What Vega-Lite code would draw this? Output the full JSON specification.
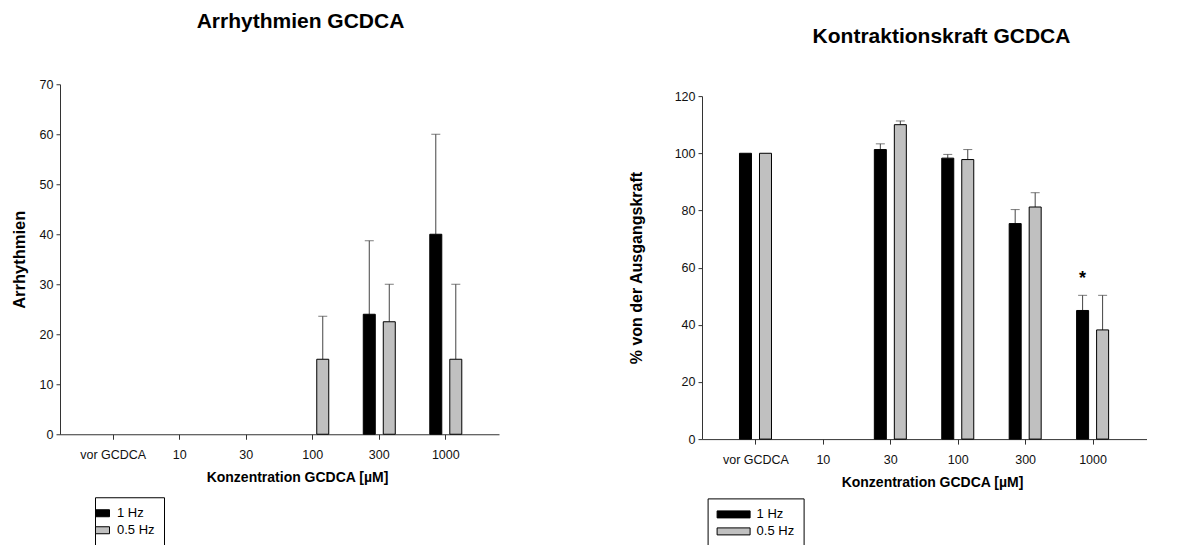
{
  "$schema": "https://vega.github.io/schema/vega-lite/v6.json",
  "background": "white",
  "padding": {"left": 11, "top": 10, "right": 0, "bottom": 0},
  "config": {
    "font": "Liberation Sans",
    "view": {"stroke": null},
    "axis": {
      "labelFont": "Liberation Sans",
      "labelFontSize": 12.5,
      "labelColor": "#111111",
      "domainColor": "#333333",
      "tickColor": "#333333",
      "grid": false,
      "titleFont": "Liberation Sans",
      "titleFontSize": 16,
      "titleFontWeight": "bold",
      "titleColor": "#000000"
    },
    "title": {
      "font": "Liberation Sans",
      "fontSize": 21,
      "fontWeight": "bold",
      "color": "#000000",
      "baseline": "alphabetic",
      "anchor": "middle",
      "frame": "group"
    },
    "legend": {
      "labelFont": "Liberation Sans",
      "labelFontSize": 13,
      "labelColor": "#000000",
      "strokeColor": "#000000",
      "fillColor": "white",
      "padding": 9,
      "rowPadding": 3,
      "symbolStrokeColor": "#000000",
      "symbolStrokeWidth": 1,
      "symbolOpacity": 1,
      "symbolSize": 169
    }
  },
  "datasets": {
    "arrhythmien": [
      {"conc": "100", "freq": "0.5 Hz", "value": 15, "hi": 23.6},
      {"conc": "300", "freq": "1 Hz", "value": 24, "hi": 38.7},
      {"conc": "300", "freq": "0.5 Hz", "value": 22.5, "hi": 30},
      {"conc": "1000", "freq": "1 Hz", "value": 40, "hi": 60},
      {"conc": "1000", "freq": "0.5 Hz", "value": 15, "hi": 30}
    ],
    "kraft": [
      {"conc": "vor GCDCA", "freq": "1 Hz", "value": 100, "hi": 100},
      {"conc": "vor GCDCA", "freq": "0.5 Hz", "value": 100, "hi": 100},
      {"conc": "30", "freq": "1 Hz", "value": 101.3, "hi": 103.3},
      {"conc": "30", "freq": "0.5 Hz", "value": 110, "hi": 111.3},
      {"conc": "100", "freq": "1 Hz", "value": 98.3, "hi": 99.6},
      {"conc": "100", "freq": "0.5 Hz", "value": 97.8, "hi": 101.3},
      {"conc": "300", "freq": "1 Hz", "value": 75.4, "hi": 80.3},
      {"conc": "300", "freq": "0.5 Hz", "value": 81.2, "hi": 86.2},
      {"conc": "1000", "freq": "1 Hz", "value": 45, "hi": 50.3, "sig": "*"},
      {"conc": "1000", "freq": "0.5 Hz", "value": 38.2, "hi": 50.3}
    ]
  },
  "center": true,
  "spacing": 129,
  "resolve": {"legend": {"color": "independent"}},
  "hconcat": [
    {
      "width": 439,
      "height": 350,
      "title": {"text": "Arrhythmien GCDCA", "offset": 46.5, "dx": 21},
      "data": {"name": "arrhythmien"},
      "encoding": {
        "x": {
          "field": "conc", "type": "nominal", "sort": null,
          "scale": {"domain": ["vor GCDCA", "10", "30", "100", "300", "1000"], "paddingInner": 0, "paddingOuter": 0.3},
          "axis": {"title": "Konzentration GCDCA [µM]", "titleFontSize": 14, "titleX": 237, "labelAngle": 0, "tickSize": 5, "labelPadding": 9.5, "titlePadding": 9}
        },
        "xOffset": {
          "field": "freq", "type": "nominal",
          "scale": {"domain": ["1 Hz", "0.5 Hz"], "paddingInner": 0.4, "paddingOuter": 0.8625}
        }
      },
      "layer": [
        {
          "mark": {"type": "rule", "color": "#444444", "strokeWidth": 1},
          "encoding": {
            "y": {"field": "value", "type": "quantitative", "title": "Arrhythmien",
                  "scale": {"domain": [0, 70]},
                  "axis": {"values": [0, 10, 20, 30, 40, 50, 60, 70], "tickSize": 4, "labelPadding": 3, "titlePadding": 12, "titleFontSize": 16.5}},
            "y2": {"field": "hi"}
          }
        },
        {
          "mark": {"type": "tick", "color": "#444444", "thickness": 1, "size": 9},
          "encoding": {
            "y": {"field": "hi", "type": "quantitative", "title": "Arrhythmien"}
          }
        },
        {
          "mark": {"type": "bar", "stroke": "#000000", "strokeWidth": 1},
          "encoding": {
            "y": {"field": "value", "type": "quantitative", "title": "Arrhythmien"},
            "color": {
              "field": "freq", "type": "nominal",
              "scale": {"domain": ["1 Hz", "0.5 Hz"], "range": ["#000000", "#c0c0c0"]},
              "legend": {"title": " ", "titleOrient": "bottom", "titleFontSize": 10, "titlePadding": 3,
                         "orient": "none", "legendX": 35, "legendY": 413,
                         "symbolType": "M-2.385,-0.538H-0.23V0.538H-2.385Z", "labelOffset": -1}
            }
          }
        }
      ]
    },
    {
      "width": 445,
      "height": 343,
      "title": {"text": "Kontraktionskraft GCDCA", "offset": 43.2, "dx": 17},
      "data": {"name": "kraft"},
      "encoding": {
        "x": {
          "field": "conc", "type": "nominal", "sort": null,
          "scale": {"domain": ["vor GCDCA", "10", "30", "100", "300", "1000"], "paddingInner": 0, "paddingOuter": 0.3},
          "axis": {"title": "Konzentration GCDCA [µM]", "titleFontSize": 14, "titleX": 230, "labelAngle": 0, "tickSize": 5, "labelPadding": 9.5, "titlePadding": 9}
        },
        "xOffset": {
          "field": "freq", "type": "nominal",
          "scale": {"domain": ["1 Hz", "0.5 Hz"], "paddingInner": 0.4, "paddingOuter": 0.8875}
        }
      },
      "layer": [
        {
          "mark": {"type": "rule", "color": "#444444", "strokeWidth": 1},
          "encoding": {
            "y": {"field": "value", "type": "quantitative", "title": "% von der Ausgangskraft",
                  "scale": {"domain": [0, 120]},
                  "axis": {"values": [0, 20, 40, 60, 80, 100, 120], "tickSize": 4, "labelPadding": 3, "titlePadding": 30}},
            "y2": {"field": "hi"}
          }
        },
        {
          "transform": [{"filter": "datum.hi > datum.value"}],
          "mark": {"type": "tick", "color": "#444444", "thickness": 1, "size": 9},
          "encoding": {
            "y": {"field": "hi", "type": "quantitative", "title": "% von der Ausgangskraft"}
          }
        },
        {
          "mark": {"type": "bar", "stroke": "#000000", "strokeWidth": 1},
          "encoding": {
            "y": {"field": "value", "type": "quantitative", "title": "% von der Ausgangskraft"},
            "color": {
              "field": "freq", "type": "nominal",
              "scale": {"domain": ["1 Hz", "0.5 Hz"], "range": ["#000000", "#c0c0c0"]},
              "legend": {"title": null, "orient": "none", "legendX": 5.6, "legendY": 402.3,
                         "symbolType": "M-1,-0.538H4.077V0.538H-1Z", "labelOffset": 26}
            }
          }
        },
        {
          "transform": [{"filter": "datum.sig"}],
          "mark": {"type": "text", "fontSize": 18, "fontWeight": "bold", "color": "#000000", "baseline": "alphabetic", "dy": -11},
          "encoding": {
            "y": {"field": "hi", "type": "quantitative", "title": "% von der Ausgangskraft"},
            "text": {"field": "sig"}
          }
        }
      ]
    }
  ]
}
